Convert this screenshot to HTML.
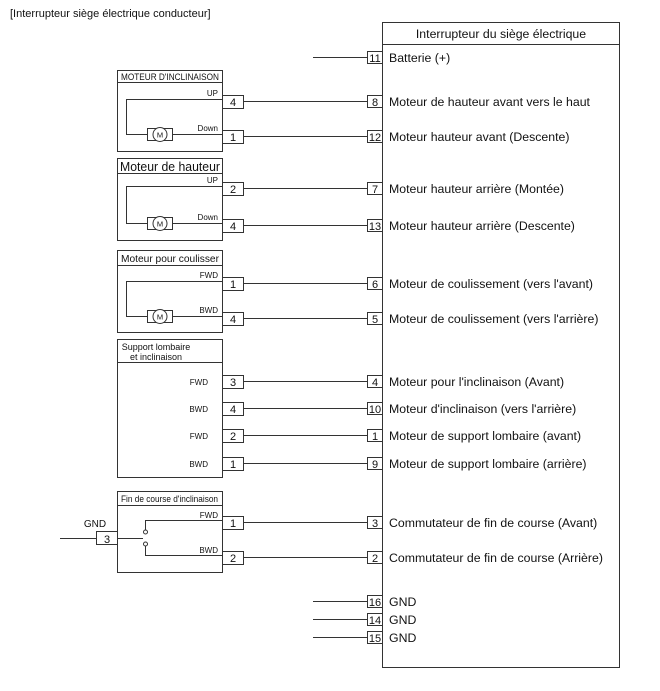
<!DOCTYPE html>
<html><head><meta charset="utf-8"><style>
html,body{margin:0;padding:0;background:#fff;}
svg{display:block;font-family:"Liberation Sans",Arial,sans-serif;}
</style></head><body>
<svg width="660" height="691" viewBox="0 0 660 691" xmlns="http://www.w3.org/2000/svg">
<g fill="none" stroke="#333" stroke-width="1">
<rect x="382.5" y="22.5" width="237" height="645"/>
<line x1="382.5" y1="44.5" x2="619.5" y2="44.5"/>
<rect x="117.5" y="70.5" width="105" height="81"/>
<line x1="117.5" y1="82.5" x2="222.5" y2="82.5"/>
<rect x="117.5" y="158.5" width="105" height="82"/>
<line x1="117.5" y1="173.5" x2="222.5" y2="173.5"/>
<rect x="117.5" y="250.5" width="105" height="82"/>
<line x1="117.5" y1="265.5" x2="222.5" y2="265.5"/>
<rect x="117.5" y="339.5" width="105" height="138"/>
<line x1="117.5" y1="362.5" x2="222.5" y2="362.5"/>
<rect x="117.5" y="491.5" width="105" height="81"/>
<line x1="117.5" y1="505.5" x2="222.5" y2="505.5"/>

<line x1="313" y1="57.5" x2="367" y2="57.5"/>
<line x1="243" y1="101.5" x2="367" y2="101.5"/>
<line x1="243" y1="136.5" x2="367" y2="136.5"/>
<line x1="243" y1="188.5" x2="367" y2="188.5"/>
<line x1="243" y1="225.5" x2="367" y2="225.5"/>
<line x1="243" y1="283.5" x2="367" y2="283.5"/>
<line x1="243" y1="318.5" x2="367" y2="318.5"/>
<line x1="243" y1="381.5" x2="367" y2="381.5"/>
<line x1="243" y1="408.5" x2="367" y2="408.5"/>
<line x1="243" y1="435.5" x2="367" y2="435.5"/>
<line x1="243" y1="463.5" x2="367" y2="463.5"/>
<line x1="243" y1="522.5" x2="367" y2="522.5"/>
<line x1="243" y1="557.5" x2="367" y2="557.5"/>
<line x1="313" y1="601.5" x2="367" y2="601.5"/>
<line x1="313" y1="619.5" x2="367" y2="619.5"/>
<line x1="313" y1="637.5" x2="367" y2="637.5"/>
<line x1="60" y1="538.5" x2="96" y2="538.5"/>

<rect x="367.5" y="51.5" width="15" height="12"/>
<rect x="367.5" y="95.5" width="15" height="12"/>
<rect x="367.5" y="130.5" width="15" height="12"/>
<rect x="367.5" y="182.5" width="15" height="12"/>
<rect x="367.5" y="219.5" width="15" height="12"/>
<rect x="367.5" y="277.5" width="15" height="12"/>
<rect x="367.5" y="312.5" width="15" height="12"/>
<rect x="367.5" y="375.5" width="15" height="12"/>
<rect x="367.5" y="402.5" width="15" height="12"/>
<rect x="367.5" y="429.5" width="15" height="12"/>
<rect x="367.5" y="457.5" width="15" height="12"/>
<rect x="367.5" y="516.5" width="15" height="12"/>
<rect x="367.5" y="551.5" width="15" height="12"/>
<rect x="367.5" y="595.5" width="15" height="12"/>
<rect x="367.5" y="613.5" width="15" height="12"/>
<rect x="367.5" y="631.5" width="15" height="12"/>
<rect x="222.5" y="95.5" width="21" height="13"/>
<rect x="222.5" y="130.5" width="21" height="13"/>
<rect x="222.5" y="182.5" width="21" height="13"/>
<rect x="222.5" y="219.5" width="21" height="13"/>
<rect x="222.5" y="277.5" width="21" height="13"/>
<rect x="222.5" y="312.5" width="21" height="13"/>
<rect x="222.5" y="375.5" width="21" height="13"/>
<rect x="222.5" y="402.5" width="21" height="13"/>
<rect x="222.5" y="429.5" width="21" height="13"/>
<rect x="222.5" y="457.5" width="21" height="13"/>
<rect x="222.5" y="516.5" width="21" height="13"/>
<rect x="222.5" y="551.5" width="21" height="13"/>
<rect x="96.5" y="531.5" width="21" height="13"/>

<path d="M222 99.5H126.5V134.5H147M173 134.5H222"/>
<rect x="147.5" y="128.5" width="25" height="12"/>
<circle cx="160" cy="134.5" r="7" fill="#fff"/>
<path d="M222 186.5H126.5V223.5H147M173 223.5H222"/>
<rect x="147.5" y="217.5" width="25" height="12"/>
<circle cx="160" cy="223.5" r="7" fill="#fff"/>
<path d="M222 281.5H126.5V316.5H147M173 316.5H222"/>
<rect x="147.5" y="310.5" width="25" height="12"/>
<circle cx="160" cy="316.5" r="7" fill="#fff"/>
<path d="M117 538.5H143"/>
<path d="M222 520.5H145.5V530"/>
<path d="M222 555.5H145.5V546"/>
<circle cx="145.5" cy="532" r="2" fill="#fff"/>
<circle cx="145.5" cy="544" r="2" fill="#fff"/>
</g>

<g fill="#111" font-size="11">
<text x="10" y="17">[Interrupteur siège électrique conducteur]</text>
<text x="501" y="38" text-anchor="middle" font-size="12.3">Interrupteur du siège électrique</text>
<g font-size="12.3">
<text x="389" y="62">Batterie (+)</text>
<text x="389" y="106">Moteur de hauteur avant vers le haut</text>
<text x="389" y="141">Moteur hauteur avant (Descente)</text>
<text x="389" y="193">Moteur hauteur arrière (Montée)</text>
<text x="389" y="230">Moteur hauteur arrière (Descente)</text>
<text x="389" y="288">Moteur de coulissement (vers l'avant)</text>
<text x="389" y="323">Moteur de coulissement (vers l'arrière)</text>
<text x="389" y="386">Moteur pour l'inclinaison (Avant)</text>
<text x="389" y="413">Moteur d'inclinaison (vers l'arrière)</text>
<text x="389" y="440">Moteur de support lombaire (avant)</text>
<text x="389" y="468">Moteur de support lombaire (arrière)</text>
<text x="389" y="527">Commutateur de fin de course (Avant)</text>
<text x="389" y="562">Commutateur de fin de course (Arrière)</text>
<text x="389" y="606">GND</text>
<text x="389" y="624">GND</text>
<text x="389" y="642">GND</text>
</g>
<g font-size="11" text-anchor="middle">
<text x="375" y="62">11</text><text x="375" y="106">8</text><text x="375" y="141">12</text>
<text x="375" y="193">7</text><text x="375" y="230">13</text><text x="375" y="288">6</text>
<text x="375" y="323">5</text><text x="375" y="386">4</text><text x="375" y="413">10</text>
<text x="375" y="440">1</text><text x="375" y="468">9</text><text x="375" y="527">3</text>
<text x="375" y="562">2</text><text x="375" y="606">16</text><text x="375" y="624">14</text>
<text x="375" y="642">15</text>
<text x="233" y="106">4</text><text x="233" y="141">1</text>
<text x="233" y="193">2</text><text x="233" y="230">4</text>
<text x="233" y="288">1</text><text x="233" y="323">4</text>
<text x="233" y="386">3</text><text x="233" y="413">4</text>
<text x="233" y="440">2</text><text x="233" y="468">1</text>
<text x="233" y="527">1</text><text x="233" y="562">2</text>
<text x="107" y="543">3</text>
<text x="95" y="527" font-size="10">GND</text>
</g>
<g font-size="8" text-anchor="end">
<text x="218" y="96">UP</text><text x="218" y="131">Down</text>
<text x="218" y="183">UP</text><text x="218" y="220">Down</text>
<text x="218" y="278">FWD</text><text x="218" y="313">BWD</text>
<text x="218" y="518">FWD</text><text x="218" y="553">BWD</text>
<text x="208" y="385">FWD</text><text x="208" y="412">BWD</text>
<text x="208" y="439">FWD</text><text x="208" y="467">BWD</text>
</g>
<g font-size="7.5" text-anchor="middle">
<text x="160" y="137.5">M</text><text x="160" y="226.5">M</text><text x="160" y="319.5">M</text>
</g>
<text x="121" y="80" font-size="9.5" textLength="98" lengthAdjust="spacingAndGlyphs">MOTEUR D'INCLINAISON</text>
<text x="120" y="171" font-size="12.5" textLength="100" lengthAdjust="spacingAndGlyphs">Moteur de hauteur</text>
<text x="121" y="262" font-size="10" textLength="98" lengthAdjust="spacingAndGlyphs">Moteur pour coulisser</text>
<text x="156" y="350" font-size="9" text-anchor="middle">Support lombaire</text>
<text x="156" y="360" font-size="9" text-anchor="middle">et inclinaison</text>
<text x="121" y="502" font-size="9" textLength="97" lengthAdjust="spacingAndGlyphs">Fin de course d'inclinaison</text>
</g>
</svg>
</body></html>
